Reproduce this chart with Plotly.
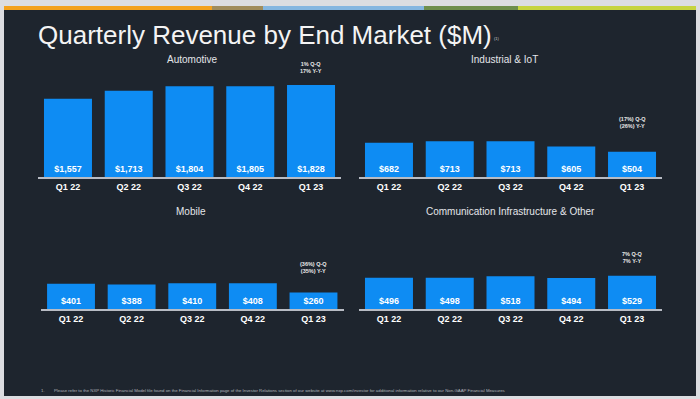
import plotly.graph_objects as go

W, H = 700, 399

quarters = ["Q1 22", "Q2 22", "Q3 22", "Q4 22", "Q1 23"]
automotive = [1557, 1713, 1804, 1805, 1828]
industrial = [682, 713, 713, 605, 504]
mobile = [401, 388, 410, 408, 260]
comm_infra = [496, 498, 518, 494, 529]

panel_titles = ["Automotive", "Industrial & IoT", "Mobile", "Communication Infrastructure & Other"]
growth_notes = ["1% Q-Q<br>17% Y-Y", "(17%) Q-Q<br>(26%) Y-Y", "(36%) Q-Q<br>(35%) Y-Y", "7% Q-Q<br>7% Y-Y"]

title_text = "Quarterly Revenue by End Market ($M)"
footnote_text = ("Please refer to the NXP Historic Financial Model file found on the Financial Information page "
                 "of the Investor Relations section of our website at www.nxp.com/investor for additional "
                 "information relative to our Non-GAAP Financial Measures")

BAR = "#0e8cf3"
BG = "#1e252e"
FRAME = "#dcdde1"
FONT = "Liberation Sans, Arial, sans-serif"


def px_x(p):
    return p / W


def px_y(p):
    return 1 - p / H


series = [automotive, industrial, mobile, comm_infra]
# (x0px, x1px, ybottom px, ytop px, yrange max)
panels = [
    (37.6, 341.4, 177, 76.4, 2000),
    (358.6, 662.4, 177, 76.4, 2000),
    (40.7, 343.8, 309, 246, 1000),
    (358.6, 662.4, 309, 246, 1000),
]
title_pos = [(192, 59), (504, 59), (191, 211), (510, 211)]
note_shift = [9, 21, 17, 10]

fig = go.Figure()
layout_axes = {}
for i, (vals, (x0, x1, yb, yt, ymax)) in enumerate(zip(series, panels)):
    n = "" if i == 0 else str(i + 1)
    fig.add_trace(go.Bar(
        x=quarters, y=vals,
        xaxis="x" + n, yaxis="y" + n,
        marker=dict(color=BAR, line=dict(width=0)),
        text=["$" + format(v, ",") for v in vals],
        textposition="inside", insidetextanchor="start",
        textfont=dict(color="white", size=9, family=FONT, weight="bold"),
        constraintext="none",
        hoverinfo="skip", showlegend=False,
    ))
    layout_axes["xaxis" + n] = dict(
        domain=[px_x(x0), px_x(x1)], anchor="y" + n,
        type="category", showline=True, linecolor="#b8bcc4", linewidth=1.5,
        showgrid=False, zeroline=False, ticks="", ticklabelstandoff=0,
        tickfont=dict(color="white", size=9, family=FONT, weight="bold"),
        fixedrange=True,
    )
    layout_axes["yaxis" + n] = dict(
        domain=[px_y(yb), px_y(yt)], anchor="x" + n,
        range=[0, ymax], visible=False, showgrid=False, zeroline=False,
    )

annotations = []
for i, (t, (tx, ty)) in enumerate(zip(panel_titles, title_pos)):
    annotations.append(dict(text=t, x=px_x(tx), y=px_y(ty), xref="paper", yref="paper",
                            showarrow=False, xanchor="center", yanchor="middle",
                            font=dict(color="#e4e6ea", size=10, family=FONT)))
for i, (vals, note) in enumerate(zip(series, growth_notes)):
    n = "" if i == 0 else str(i + 1)
    annotations.append(dict(text="<b>" + note + "</b>", x=quarters[-1], y=vals[-1],
                            xref="x" + n, yref="y" + n, showarrow=False,
                            xanchor="center", yanchor="bottom", yshift=note_shift[i],
                            font=dict(color="#e8e8e8", size=5.5, family=FONT)))

annotations.append(dict(text=title_text, x=px_x(36), y=px_y(35), xref="paper", yref="paper",
                        showarrow=False, xanchor="left", yanchor="middle",
                        font=dict(color="#f4f4f4", size=26, family=FONT)))
annotations.append(dict(text="(1)", x=px_x(492), y=px_y(38), xref="paper", yref="paper",
                        showarrow=False, xanchor="left", yanchor="middle",
                        font=dict(color="#cccccc", size=4, family=FONT)))
annotations.append(dict(text="1.", x=px_x(39), y=px_y(390), xref="paper", yref="paper",
                        showarrow=False, xanchor="left", yanchor="middle",
                        font=dict(color="#b0b4ba", size=4.3, family=FONT)))
annotations.append(dict(text=footnote_text, x=px_x(52), y=px_y(390), xref="paper", yref="paper",
                        showarrow=False, xanchor="left", yanchor="middle",
                        font=dict(color="#b0b4ba", size=4.3, family=FONT)))

shapes = [
    dict(type="rect", xref="paper", yref="paper", x0=px_x(4), x1=px_x(696),
         y0=px_y(396), y1=px_y(9), fillcolor=BG, line=dict(width=0), layer="below"),
]
stripe_edges = [4, 212, 263, 424, 518, 696]
stripe_colors = ["#f3a11d", "#a08c5c", "#85b6e0", "#6e8e4c", "#c6d43e"]
for c, a, b in zip(stripe_colors, stripe_edges[:-1], stripe_edges[1:]):
    shapes.append(dict(type="rect", xref="paper", yref="paper", x0=px_x(a), x1=px_x(b),
                       y0=px_y(10), y1=px_y(6), fillcolor=c, line=dict(width=0), layer="below"))

fig.update_layout(
    width=W, height=H, margin=dict(l=0, r=0, t=0, b=0),
    paper_bgcolor=FRAME, plot_bgcolor="rgba(0,0,0,0)",
    bargap=0.21, showlegend=False,
    uniformtext=dict(minsize=9, mode="show"),
    annotations=annotations, shapes=shapes,
    font=dict(family=FONT),
    **layout_axes,
)

fig.write_html("out.html", config={"displayModeBar": False},
               post_script="document.body.style.margin='0px';document.body.style.overflow='hidden';")
